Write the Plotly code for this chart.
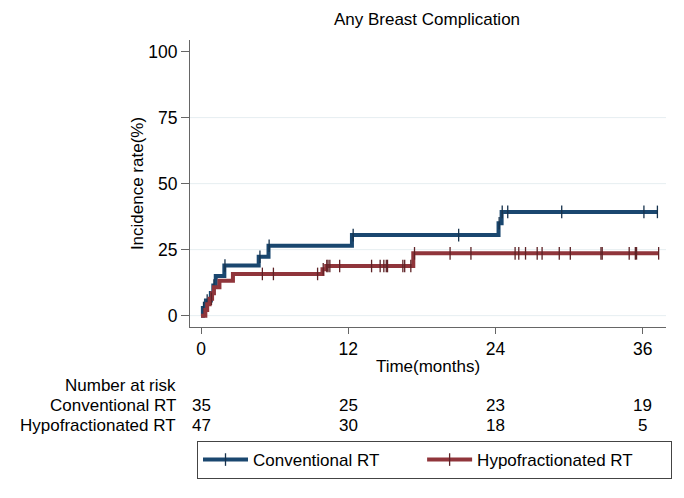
import plotly.graph_objects as go

# ---- data ----
conv_event_times = [0, 0.15, 0.4, 0.8, 1.0, 1.2, 1.9, 4.7, 5.5, 12.3, 24.25, 24.5]
conv_event_levels = [0, 2.9, 5.7, 8.6, 11.4, 15.0, 19.0, 22.3, 26.5, 30.5, 35.0, 39.3]
conv_censor_times = [0.2, 0.5, 1.05, 1.95, 4.8, 5.55, 12.4, 21.0, 24.3, 24.55, 25.0, 29.4, 36.1, 37.2]

hypo_event_times = [0, 0.35, 0.5, 0.7, 0.9, 1.05, 1.5, 2.6, 9.9, 10.2, 17.3]
hypo_event_levels = [0, 2.1, 4.3, 6.4, 8.5, 10.8, 13.2, 15.8, 17.6, 18.8, 23.6]
hypo_censor_times = [0.85, 5.0, 5.9, 9.5, 9.96, 10.25, 10.35, 10.5, 11.3, 13.9, 14.6, 14.9,
                     15.1, 15.2, 16.45, 16.6, 17.1, 17.4, 20.3, 22.0, 25.6, 25.9, 26.45,
                     27.4, 27.8, 29.2, 30.1, 32.6, 32.7, 34.9, 35.4, 35.5, 37.3]

risk_times = [0, 12, 24, 36]
risk_conv = [35, 25, 23, 19]
risk_hypo = [47, 30, 18, 5]

series_names = ["Conventional RT", "Hypofractionated RT"]
colors = ["#1a476f", "#90353b"]
tick_colors = ["#16324d", "#5e2226"]
x_ticks = [0, 12, 24, 36]
y_ticks = [0, 25, 50, 75, 100]
grid_values = [0, 25, 50, 75]


def level_at(t, times, levels):
    val = levels[0]
    for tt, lv in zip(times, levels):
        if tt <= t:
            val = lv
    return val


fig = go.Figure()

legend_pad = [8, 7]  # trailing non-breaking spaces to space the legend like the reference
series = [
    (conv_event_times, conv_event_levels, conv_censor_times),
    (hypo_event_times, hypo_event_levels, hypo_censor_times),
]
for i, ((et, el, ct), name, col, tcol) in enumerate(zip(series, series_names, colors, tick_colors)):
    xs = sorted(set(et) | set(ct))
    ys = [level_at(t, et, el) for t in xs]
    fig.add_trace(go.Scatter(x=xs, y=ys, mode="lines", line=dict(color=col, width=4, shape="hv"),
                             showlegend=False, hoverinfo="skip"))
    cy = [level_at(t, et, el) for t in ct]
    fig.add_trace(go.Scatter(x=ct, y=cy, mode="markers",
                             marker=dict(symbol="line-ns", size=9, line=dict(color=tcol, width=1.3)),
                             showlegend=False, hoverinfo="skip"))
    label = name + "\u00a0" * legend_pad[i]
    fig.add_trace(go.Scatter(x=[None], y=[None], mode="lines+markers", name=label,
                             line=dict(color=col, width=4),
                             marker=dict(symbol="line-ns", size=9, color=col, line=dict(color=tcol, width=1.3))))

# light horizontal grid lines (none at the top tick)
for g in grid_values:
    fig.add_shape(type="line", xref="paper", x0=0, x1=1, yref="y", y0=g, y1=g,
                  line=dict(color="#e6eef1", width=1), layer="below")

# the page body adds an 8px offset; work in screen pixels and convert
OFF = 8
W, H = 684 - OFF, 498 - OFF
PL, PR, PT, PB = 190 - OFF, 666 - OFF, 40 - OFF, 327 - OFF


def py(p):
    return (PB - (p - OFF)) / (PB - PT)


def px(p):
    return ((p - OFF) - PL) / (PR - PL)


FS = 17
annotations = [dict(text="Number at risk", x=px(178), xref="paper", y=py(385), yref="paper",
                    xanchor="right", yanchor="middle", showarrow=False, font=dict(size=FS))]
for row_label, vals, ypix in [(series_names[0], risk_conv, 405), (series_names[1], risk_hypo, 425)]:
    annotations.append(dict(text=row_label, x=px(178), xref="paper", y=py(ypix), yref="paper",
                            xanchor="right", yanchor="middle", showarrow=False, font=dict(size=FS)))
    for t, v in zip(risk_times, vals):
        annotations.append(dict(text=str(v), x=t, xref="x", y=py(ypix), yref="paper", xanchor="center",
                                yanchor="middle", showarrow=False, font=dict(size=FS)))

fig.update_layout(
    width=W, height=H,
    margin=dict(l=PL, r=W - PR, t=PT, b=H - PB, autoexpand=False),
    plot_bgcolor="white", paper_bgcolor="white",
    font=dict(family="Liberation Sans, Arial, sans-serif", size=FS, color="black"),
    title=dict(text="Any Breast Complication", x=px(427), xref="paper", y=1 - (19 - OFF) / H, yref="container",
               xanchor="center", yanchor="middle", font=dict(size=FS)),
    xaxis=dict(range=[-0.9, 37.9], tickvals=x_ticks, showline=True, linecolor="#666", linewidth=1.2,
               ticks="outside", ticklen=6, tickcolor="#666", showgrid=False, zeroline=False,
               automargin=False, tickfont=dict(size=17.5),
               title=dict(text="Time(months)", standoff=2, font=dict(size=FS))),
    yaxis=dict(range=[-4.3, 104.4], tickvals=y_ticks, showline=True, linecolor="#666", linewidth=1.2,
               ticks="outside", ticklen=8, tickcolor="#666", showgrid=False, zeroline=False,
               automargin=False, tickfont=dict(size=17.5),
               title=dict(text="Incidence rate(%)", standoff=0, font=dict(size=FS))),
    legend=dict(orientation="h", x=(197 - OFF) / W, xref="container", y=1 - (441 - OFF) / H, yref="container",
                xanchor="left", yanchor="top",
                bordercolor="#444", borderwidth=1,
                font=dict(size=FS), itemwidth=45),
    annotations=annotations,
)

fig.write_html("out.html")
